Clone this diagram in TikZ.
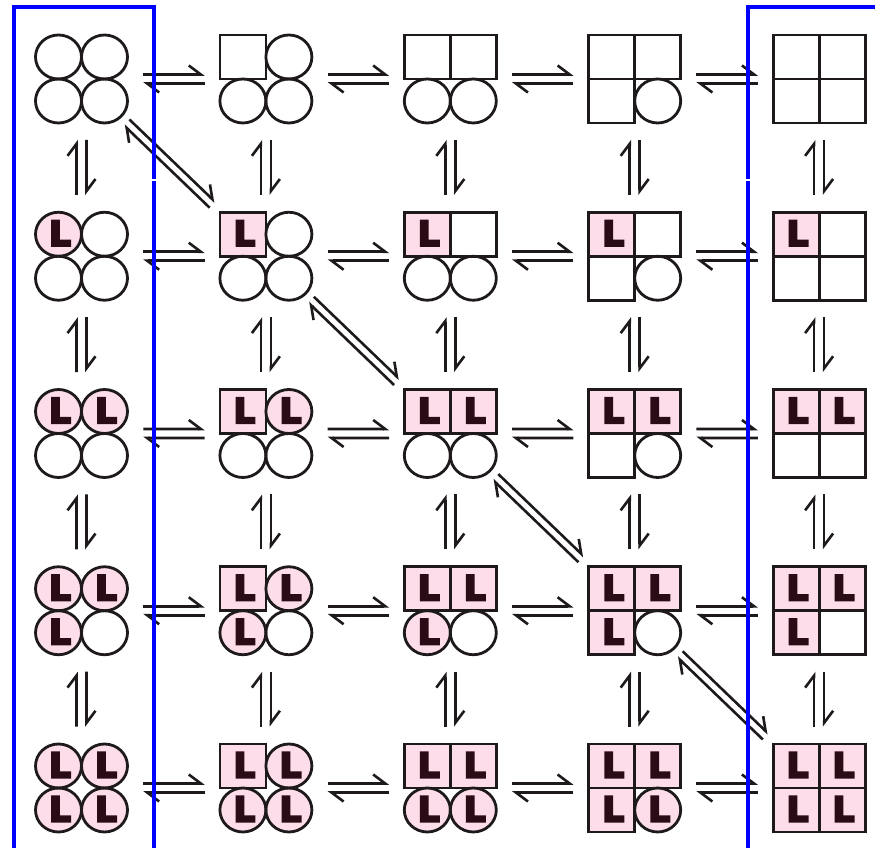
\documentclass[tikz,border=0pt]{standalone}
\usepackage{fontspec}
\usetikzlibrary{arrows.meta,calc}
\newfontfamily\Lfont[FakeBold=7]{DejaVu Sans Bold}
\definecolor{ligand}{RGB}{252,221,233}
\definecolor{ink}{RGB}{30,26,28}
\definecolor{lcol}{RGB}{42,12,22}
\definecolor{frameblue}{RGB}{0,0,255}

% pair of opposed harpoons between two tetramers:
% #1 from, #2 to, #3/#4 start/end fraction of the centre line, #5 half spacing (pt)
\newcommand\equil[5]{%
  \coordinate (eqS) at ($(#1.center)!#3!(#2.center)$);
  \coordinate (eqE) at ($(#1.center)!#4!(#2.center)$);
  \draw[harp] ($(eqS)!#5pt!90:(eqE)$) -- ($(eqE)!#5pt!-90:(eqS)$);
  \draw[harp] ($(eqE)!#5pt!90:(eqS)$) -- ($(eqS)!#5pt!-90:(eqE)$);
}

\begin{document}
\begin{tikzpicture}[x=1pt,y=1pt,
  tetra/.style={minimum width=92pt,minimum height=88pt,inner sep=0pt},
  subunit/.style={draw=ink,line width=2.8pt},
  ligtext/.style={inner sep=0pt,text=lcol,font=\Lfont\fontsize{34}{34}\selectfont},
  harp/.style={draw=ink,line width=2.6pt,-{Straight Barb[left,length=12pt,width=18pt]}},
  frame/.style={draw=frameblue,line width=4pt,line join=miter}]
\useasboundingbox (0,0) rectangle (875,848);

% 5 x 5 grid: column = number of square (T) subunits, row = number of bound L
\foreach \r in {0,...,4} {
  \foreach \c in {0,...,4} {
    \pgfmathsetmacro\cx{81.5+184.4*\c}
    \pgfmathsetmacro\cy{769-177.25*\r}
    \node[tetra] (t\r\c) at (\cx,\cy) {};
    % fills
    \foreach \k/\dx/\dy in {1/-23/22,2/23/22,3/-23/-22,4/23/-22} {
      \pgfmathtruncatemacro\sq{\k<=\c}
      \pgfmathtruncatemacro\lig{\k<=\r}
      \ifnum\lig=1 \def\fc{ligand}\else\def\fc{white}\fi
      \ifnum\sq=1
        \fill[\fc] ($(t\r\c.center)+(\dx-23,\dy-22)$) rectangle ($(t\r\c.center)+(\dx+23,\dy+22)$);
      \else
        \fill[\fc] ($(t\r\c.center)+(\dx,\dy)$) ellipse [x radius=23,y radius=22];
      \fi
    }
    % outlines and ligands
    \foreach \k/\dx/\dy in {1/-23/22,2/23/22,3/-23/-22,4/23/-22} {
      \pgfmathtruncatemacro\sq{\k<=\c}
      \pgfmathtruncatemacro\lig{\k<=\r}
      \ifnum\sq=1
        \draw[subunit] ($(t\r\c.center)+(\dx-23,\dy-22)$) rectangle ($(t\r\c.center)+(\dx+23,\dy+22)$);
      \else
        \draw[subunit] ($(t\r\c.center)+(\dx,\dy)$) ellipse [x radius=23,y radius=22];
      \fi
      \ifnum\lig=1
        \node[ligtext] (L\r\c\k) at ($(t\r\c.center)+(\dx+1.5,\dy+1)$) {L};
      \fi
    }
  }
}

% horizontal and vertical equilibria
\foreach \r in {0,...,4} {
  \foreach \c in {0,...,3} {
    \pgfmathtruncatemacro\cn{\c+1}
    \equil{t\r\c}{t\r\cn}{0.335}{0.668}{4.5}
  }
}
\foreach \r in {0,...,3} {
  \pgfmathtruncatemacro\rn{\r+1}
  \foreach \c in {0,...,4} {
    \equil{t\r\c}{t\rn\c}{0.344}{0.654}{5}
  }
}
% diagonal equilibria
\foreach \i/\j in {0/1,1/2,2/3,3/4} {
  \equil{t\i\i}{t\j\j}{0.245}{0.71}{4}
}

% blue frames round the first and last columns
\draw[frame] (14,-3) -- (14,841) -- (154,841) -- (154,668.6);
\draw[frame] (154,667.4) -- (154,-3);
\draw[frame] (748,-3) -- (748,667.4);
\draw[frame] (748,668.6) -- (748,841) -- (878,841);
\end{tikzpicture}
\end{document}
